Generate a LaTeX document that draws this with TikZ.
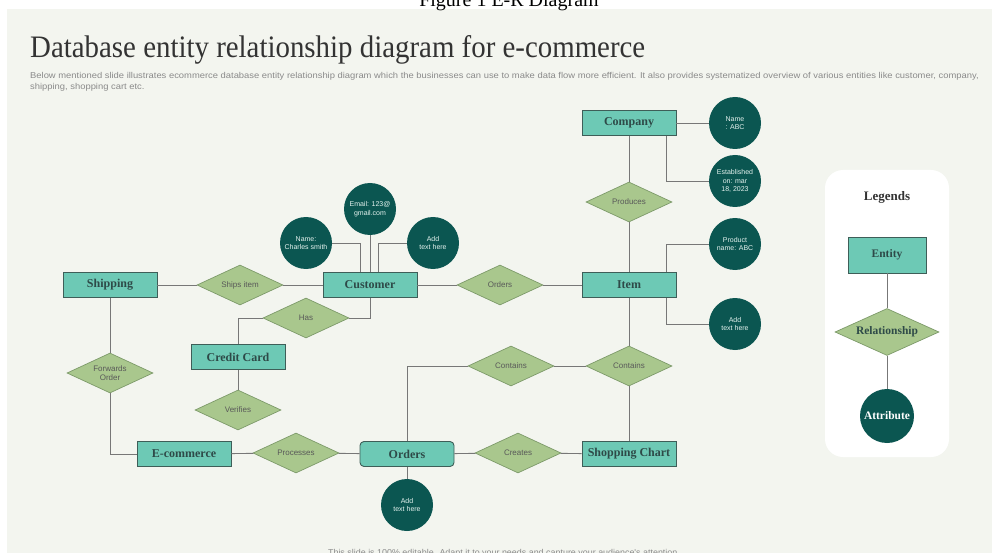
\documentclass[tikz,border=0pt]{standalone}
\usepackage{fontspec}
\setmainfont{Liberation Serif}
\newfontfamily\sansf{Liberation Sans}
\usetikzlibrary{shapes.geometric}
\definecolor{bg}{HTML}{F3F5EF}
\definecolor{entfill}{HTML}{6DC9B5}
\definecolor{entdraw}{HTML}{3E5E58}
\definecolor{enttext}{HTML}{2E4A48}
\definecolor{relfill}{HTML}{A9C78D}
\definecolor{reldraw}{HTML}{7D9A6A}
\definecolor{attfill}{HTML}{0B5651}
\definecolor{linec}{HTML}{777777}
\definecolor{titlec}{HTML}{333333}
\definecolor{subc}{HTML}{8A8A8A}
\definecolor{atttext}{HTML}{E4F2EE}
\begin{document}
\begin{tikzpicture}[x=1pt,y=-1pt,
 entity/.style={draw=entdraw, fill=entfill, line width=0.9pt, minimum width=94pt, minimum height=25pt, inner sep=0pt, font=\fontsize{12}{12}\selectfont\bfseries, text=enttext},
 rel/.style={diamond, draw=reldraw, fill=relfill, line width=0.7pt, minimum width=86pt, minimum height=40pt, inner sep=0pt, aspect=2.15, font=\sansf\fontsize{8}{9.5}\selectfont, text=black!65, align=center},
 attr/.style={circle, fill=attfill, minimum size=52pt, inner sep=0pt, font=\sansf\fontsize{7}{8.4}\selectfont, text=atttext, align=center},
 conn/.style={draw=linec, line width=0.9pt},
 subtext/.style={inner sep=0pt, text=subc, font=\sansf\fontsize{8.5}{10}\selectfont}]

\useasboundingbox (0,0) rectangle (992,553);
\fill[white] (0,0) rectangle (992,553);
\fill[bg] (7,9) rectangle (992,553);

\node[anchor=base, inner sep=0pt, font=\fontsize{20}{20}\selectfont] (cap) at (509,7) {Figure 1 E-R Diagram};

\node[anchor=base west, inner sep=0pt, text=titlec] (title) at (30,58) {\resizebox{615pt}{22pt}{\fontsize{30}{30}\selectfont Database entity relationship diagram for e-commerce}};

\node[anchor=base west, subtext] (sub1) at (30,79) {\scalebox{1.105}[1]{Below mentioned slide illustrates ecommerce database entity relationship diagram which the businesses can use to make data flow more efficient. It also provides systematized overview of various entities like customer, company,}};
\node[anchor=base west, subtext] (sub2) at (30,90) {\scalebox{1.105}[1]{shipping, shopping cart etc.}};

\node[anchor=base, subtext] (foot) at (504,555) {\scalebox{1.05}[1]{This slide is 100\% editable. Adapt it to your needs and capture your audience's attention.}};

% legend panel
\node[fill=white, rounded corners=18pt, minimum width=124pt, minimum height=287pt, inner sep=0pt] (legendbox) at (887,313.5) {};
\node[font=\fontsize{13}{13}\selectfont\bfseries, text=titlec] (legtitle) at (887,197) {Legends};
\node[entity, minimum width=78pt, minimum height=36pt, font=\fontsize{11.5}{12}\selectfont\bfseries] (lentity) at (887,255) {Entity};
\node[rel, minimum width=104pt, minimum height=47pt, aspect=2.2, font=\fontsize{11.5}{12}\selectfont\bfseries, text=enttext] (lrel) at (887,332) {Relationship};
\node[attr, minimum size=54pt, font=\fontsize{11.5}{12}\selectfont\bfseries, text=white] (lattr) at (887,416) {Attribute};
\draw[conn] (lentity) -- (lrel);
\draw[conn] (lrel) -- (lattr);

% entities
\node[entity] (company) at (629,123) {Company};
\node[entity] (item) at (629,285) {Item};
\node[entity] (customer) at (370,285) {Customer};
\node[entity] (shipping) at (110,285) {Shipping};
\node[entity] (credit) at (238,357) {Credit Card};
\node[entity] (ecom) at (184,454) {E-commerce};
\node[entity, rounded corners=4pt] (orders) at (407,454) {Orders};
\node[entity] (shop) at (629,454) {Shopping Chart};

% relationships
\node[rel] (produces) at (629,202) {Produces};
\node[rel] (shipsitem) at (240,285) {Ships item};
\node[rel] (ordersrel) at (500,285) {Orders};
\node[rel] (has) at (306,318) {Has};
\node[rel] (forwards) at (110,373) {Forwards\\Order};
\node[rel] (verifies) at (238,410) {Verifies};
\node[rel] (processes) at (296,453) {Processes};
\node[rel] (contL) at (511,366) {Contains};
\node[rel] (contR) at (629,366) {Contains};
\node[rel] (creates) at (518,453) {Creates};

% attributes
\node[attr] (nameabc) at (735,123) {Name\\: ABC};
\node[attr] (estab) at (735,181) {Established\\on: mar\\18, 2023};
\node[attr] (email) at (370,209) {Email: 123@\\gmail.com};
\node[attr] (charles) at (306,243) {Name:\\Charles smith};
\node[attr] (custadd) at (433,243) {Add\\text here};
\node[attr] (prodname) at (735,244) {Product\\name: ABC};
\node[attr] (itemadd) at (735,324) {Add\\text here};
\node[attr] (ordadd) at (407,505) {Add\\text here};

% connectors
\draw[conn] (company) -- (nameabc);
\draw[conn] ([xshift=-10pt]company.south east) |- (estab);
\draw[conn] (company) -- (produces);
\draw[conn] (produces) -- (item);
\draw[conn] ([xshift=-10pt]item.north east) |- (prodname);
\draw[conn] ([xshift=-10pt]item.south east) |- (itemadd);
\draw[conn] (item) -- (contR);
\draw[conn] (contR) -- (shop);
\draw[conn] (contL) -- (contR);
\draw[conn] (contL) -| (orders);
\draw[conn] (orders) -- (creates);
\draw[conn] (creates) -- (shop);
\draw[conn] (orders) -- (ordadd);
\draw[conn] (ecom) -- (processes);
\draw[conn] (processes) -- (orders);
\draw[conn] (shipping) -- (forwards);
\draw[conn] (forwards) |- (ecom);
\draw[conn] (shipping) -- (shipsitem);
\draw[conn] (shipsitem) -- (customer);
\draw[conn] (customer) -- (ordersrel);
\draw[conn] (ordersrel) -- (item);
\draw[conn] (customer) |- (has);
\draw[conn] (has) -| (credit);
\draw[conn] (credit) -- (verifies);
\draw[conn] (email) -- (customer);
\draw[conn] (charles) -| ([xshift=-10pt]customer.north);
\draw[conn] (custadd) -| ([xshift=8pt]customer.north);
\end{tikzpicture}
\end{document}
